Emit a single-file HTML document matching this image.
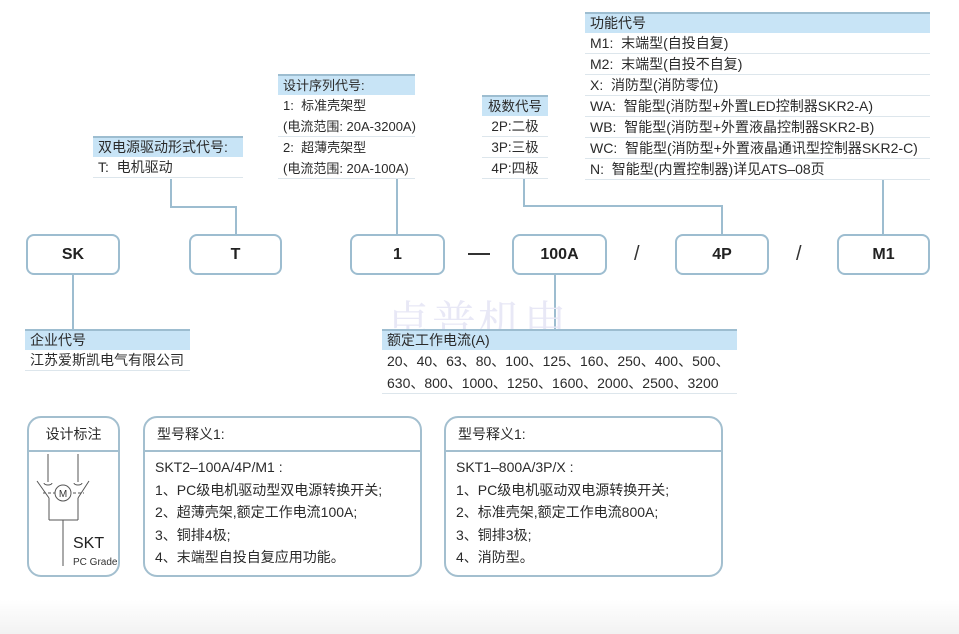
<!DOCTYPE html>
<html><head><meta charset="utf-8"><style>
*{margin:0;padding:0;box-sizing:border-box}
body{width:959px;height:634px;position:relative;background:#fff;font-family:"Liberation Sans","Noto Sans CJK SC",sans-serif;color:#2a2a2a;overflow:hidden}
.a{position:absolute}
.t{position:absolute;font-size:14px}
.t div{height:21px;line-height:21px;border-bottom:1px solid #dde6ec;padding-left:5px;white-space:nowrap}
.t div.h{background:#c8e4f6;border-top:2px solid #9dbdd0;border-bottom:none;line-height:19px}
.box{position:absolute;top:234px;height:41px;border:2px solid #9dbdd0;border-radius:8px;text-align:center;line-height:37px;font-weight:bold;font-size:16px;color:#222}
.v{position:absolute;width:2px;background:#9dbdd0}
.hl{position:absolute;height:2px;background:#9dbdd0}
.card{position:absolute;top:416px;height:161px;border:2px solid #a3bfcf;border-radius:14px}
.card .hd{height:34px;border-bottom:2px solid #a3bfcf;line-height:32px;padding-left:12px;font-size:14px}
.card .ln{font-size:14px;padding-left:10px;height:22.5px;line-height:22.5px;white-space:nowrap}
</style></head><body>
<div class="a" style="left:0;top:600px;width:959px;height:34px;background:linear-gradient(#fff,#f2f2f2)"></div>

<div class="t" style="left:585px;top:12px;width:345px">
<div class="h">功能代号</div>
<div>M1:&nbsp; 末端型(自投自复)</div>
<div>M2:&nbsp; 末端型(自投不自复)</div>
<div>X:&nbsp; 消防型(消防零位)</div>
<div>WA:&nbsp; 智能型(消防型+外置LED控制器SKR2-A)</div>
<div>WB:&nbsp; 智能型(消防型+外置液晶控制器SKR2-B)</div>
<div>WC:&nbsp; 智能型(消防型+外置液晶通讯型控制器SKR2-C)</div>
<div>N:&nbsp; 智能型(内置控制器)详见ATS–08页</div>
</div>

<div class="t" style="left:278px;top:74px;width:137px;font-size:13px">
<div class="h">设计序列代号:</div>
<div style="border:none">1:&nbsp; 标准壳架型</div>
<div>(电流范围:&nbsp;20A-3200A)</div>
<div style="border:none">2:&nbsp; 超薄壳架型</div>
<div>(电流范围:&nbsp;20A-100A)</div>
</div>

<div class="t" style="left:482px;top:95px;width:66px;text-align:center;font-size:13.5px">
<div class="h" style="padding:0">极数代号</div>
<div style="padding:0">2P:二极</div>
<div style="padding:0">3P:三极</div>
<div style="padding:0">4P:四极</div>
</div>

<div class="t" style="left:93px;top:136px;width:150px">
<div class="h">双电源驱动形式代号:</div>
<div>T:&nbsp; 电机驱动</div>
</div>

<div class="v" style="left:170px;top:179px;height:29px"></div>
<div class="hl" style="left:170px;top:206px;width:67px"></div>
<div class="v" style="left:235px;top:206px;height:28px"></div>
<div class="v" style="left:396px;top:179px;height:55px"></div>
<div class="v" style="left:523px;top:179px;height:28px"></div>
<div class="hl" style="left:523px;top:205px;width:200px"></div>
<div class="v" style="left:721px;top:205px;height:29px"></div>
<div class="v" style="left:882px;top:180px;height:54px"></div>
<div class="v" style="left:72px;top:275px;height:55px"></div>
<div class="v" style="left:554px;top:275px;height:55px"></div>

<div class="box" style="left:26px;width:94px">SK</div>
<div class="box" style="left:189px;width:93px">T</div>
<div class="box" style="left:350px;width:95px">1</div>
<div class="box" style="left:512px;width:95px">100A</div>
<div class="box" style="left:675px;width:94px">4P</div>
<div class="box" style="left:837px;width:93px">M1</div>
<div class="a" style="left:468px;top:253px;width:22px;height:2px;background:#333"></div>
<div class="a" style="left:634px;top:243px;font-size:20px;color:#333">/</div>
<div class="a" style="left:796px;top:243px;font-size:20px;color:#333">/</div>

<div class="a" style="left:386px;top:286px;font-family:'Noto Serif CJK SC',serif;font-size:44px;color:#e8e8f6;letter-spacing:2px">卓普机电</div>

<div class="t" style="left:25px;top:329px;width:165px">
<div class="h">企业代号</div>
<div>江苏爱斯凯电气有限公司</div>
</div>
<div class="t" style="left:382px;top:329px;width:355px">
<div class="h">额定工作电流(A)</div>
<div style="height:22px;line-height:22px;border:none">20、40、63、80、100、125、160、250、400、500、</div>
<div style="height:22px;line-height:22px">630、800、1000、1250、1600、2000、2500、3200</div>
</div>

<div class="card" style="left:27px;width:93px">
<div class="hd" style="padding:0;text-align:center">设计标注</div>
<svg class="a" style="left:-2px;top:-2px" width="93" height="161" viewBox="27 416 93 161">
<g stroke="#555" stroke-width="1" fill="none">
<line x1="48" y1="454" x2="48" y2="482"/><line x1="78" y1="454" x2="78" y2="482"/>
<path d="M44 483 a4 2 0 0 0 8 0 M74 483 a4 2 0 0 0 8 0"/>
<line x1="37" y1="481" x2="49" y2="498"/><line x1="89" y1="481" x2="78" y2="498"/>
<line x1="49" y1="498" x2="49" y2="520"/><line x1="78" y1="498" x2="78" y2="520"/>
<line x1="49" y1="520" x2="78" y2="520"/><line x1="63" y1="520" x2="63" y2="566"/>
<line x1="43" y1="493" x2="84" y2="493" stroke-dasharray="3,2"/>
<circle cx="63" cy="493" r="8" fill="#fff"/>
</g>
<text x="63" y="497" font-size="10" text-anchor="middle" fill="#333" font-family="Liberation Sans">M</text>
<text x="73" y="548" font-size="16" fill="#222" font-family="Liberation Sans">SKT</text>
<text x="73" y="565" font-size="10" fill="#333" font-family="Liberation Sans">PC Grade</text>
</svg>
</div>

<div class="card" style="left:143px;width:279px">
<div class="hd">型号释义1:</div>
<div style="height:4px"></div>
<div class="ln">SKT2–100A/4P/M1 :</div>
<div class="ln">1、PC级电机驱动型双电源转换开关;</div>
<div class="ln">2、超薄壳架,额定工作电流100A;</div>
<div class="ln">3、铜排4极;</div>
<div class="ln">4、末端型自投自复应用功能。</div>
</div>
<div class="card" style="left:444px;width:279px">
<div class="hd">型号释义1:</div>
<div style="height:4px"></div>
<div class="ln">SKT1–800A/3P/X :</div>
<div class="ln">1、PC级电机驱动双电源转换开关;</div>
<div class="ln">2、标准壳架,额定工作电流800A;</div>
<div class="ln">3、铜排3极;</div>
<div class="ln">4、消防型。</div>
</div>
</body></html>
